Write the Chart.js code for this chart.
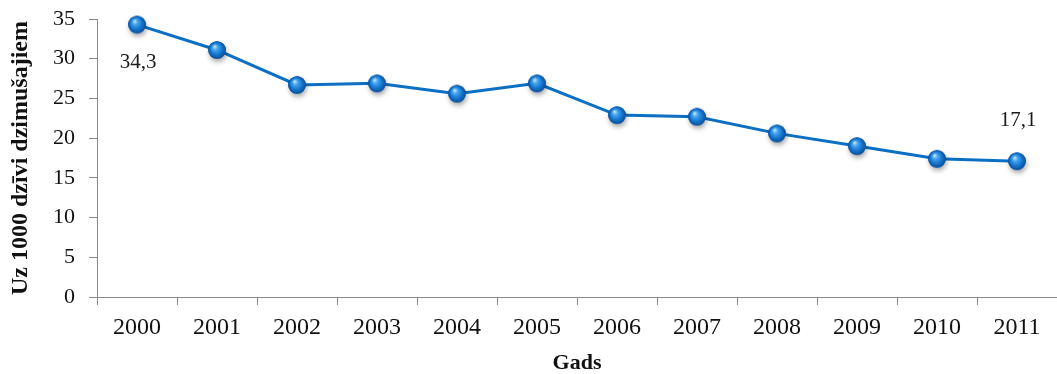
<!DOCTYPE html>
<html>
<head>
<meta charset="utf-8">
<script src="https://cdn.jsdelivr.net/npm/chart.js@4"></script>
<style>
  html, body { margin: 0; padding: 0; background: #ffffff; }
  #wrap { width: 1057px; height: 374px; position: relative; }
</style>
</head>
<body>
<div id="wrap"><canvas id="chart" width="1057" height="374"></canvas></div>
<script>
// Infant mortality per 1000 live births, by year
const years = ['2000', '2001', '2002', '2003', '2004', '2005', '2006', '2007', '2008', '2009', '2010', '2011'];
const rate = [34.3, 31.1, 26.7, 26.9, 25.6, 26.9, 22.9, 22.7, 20.6, 19.0, 17.4, 17.1];
const yTicks = [0, 5, 10, 15, 20, 25, 30, 35];
const labelledYears = ['2000', '2011'];

const SERIF = '"Liberation Serif", "Times New Roman", serif';
const AXIS_GREY = '#8a8a8a';
const LINE_BLUE = '#0b6fc3';

// Glossy sphere used as the point marker
function makeSphere() {
  const size = 34, c = size / 2, r = 8.8;
  const cv = document.createElement('canvas');
  cv.width = size; cv.height = size;
  const g = cv.getContext('2d');
  g.save();
  g.shadowColor = 'rgba(0,0,0,0.35)';
  g.shadowBlur = 5;
  g.shadowOffsetX = 1;
  g.shadowOffsetY = 3;
  g.beginPath();
  g.arc(c, c, r, 0, Math.PI * 2);
  g.fillStyle = '#0a5fae';
  g.fill();
  g.restore();
  const grad = g.createRadialGradient(c - 2.5, c - 3.5, 0.5, c, c, r);
  grad.addColorStop(0, '#bfe4ff');
  grad.addColorStop(0.25, '#4aa6ef');
  grad.addColorStop(0.65, '#1576cf');
  grad.addColorStop(1, '#0a4f98');
  g.beginPath();
  g.arc(c, c, r, 0, Math.PI * 2);
  g.fillStyle = grad;
  g.fill();
  return cv;
}
const sphere = makeSphere();

const fmt = v => v.toFixed(1).replace('.', ',');

// Value labels: first year below its point, last year above
const valueLabels = {
  id: 'valueLabels',
  afterDatasetsDraw(chart) {
    const ctx = chart.ctx;
    const meta = chart.getDatasetMeta(0);
    ctx.save();
    ctx.font = '21px ' + SERIF;
    ctx.fillStyle = '#1a1a1a';
    ctx.textAlign = 'center';
    ctx.textBaseline = 'middle';
    labelledYears.forEach(yr => {
      const i = years.indexOf(yr);
      const pt = meta.data[i];
      const dy = i === 0 ? 38 : -41;
      ctx.fillText(fmt(rate[i]), pt.x + 1, pt.y + dy);
    });
    ctx.restore();
  }
};

new Chart(document.getElementById('chart'), {
  type: 'line',
  data: {
    labels: years,
    datasets: [{
      data: rate,
      borderColor: LINE_BLUE,
      borderWidth: 3,
      pointStyle: sphere,
      pointRadius: 9,
      pointHoverRadius: 9,
      tension: 0,
      fill: false,
      clip: false
    }]
  },
  options: {
    responsive: false,
    animation: false,
    events: [],
    layout: { autoPadding: false, padding: { top: 19, right: 0, bottom: 0, left: 0 } },
    plugins: {
      legend: { display: false },
      tooltip: { enabled: false }
    },
    scales: {
      x: {
        type: 'category',
        offset: true,
        grid: {
          offset: true,
          drawOnChartArea: false,
          drawTicks: true,
          tickLength: 8,
          color: AXIS_GREY,
          lineWidth: 1
        },
        border: { color: AXIS_GREY, width: 1 },
        ticks: {
          color: '#111',
          font: { family: SERIF, size: 24 },
          padding: 8,
          maxRotation: 0,
          autoSkip: false
        },
        title: {
          display: true,
          text: 'Gads',
          color: '#111',
          font: { family: SERIF, size: 22, weight: 'bold', lineHeight: 1 },
          padding: { top: 0, bottom: 0 }
        },
        afterFit(scale) {
          scale.height = 77;
          scale.paddingLeft = 0;
          scale.paddingRight = 0;
        }
      },
      y: {
        min: 0,
        max: 35,
        afterBuildTicks(scale) { scale.ticks = yTicks.map(v => ({ value: v })); },
        grid: {
          drawOnChartArea: false,
          drawTicks: true,
          tickLength: 8,
          color: AXIS_GREY,
          lineWidth: 1
        },
        border: { color: AXIS_GREY, width: 1 },
        ticks: {
          color: '#111',
          font: { family: SERIF, size: 22 },
          padding: 14
        },
        title: {
          display: true,
          text: 'Uz 1000 dzīvi dzimušajiem',
          color: '#111',
          font: { family: SERIF, size: 24, weight: 'bold', lineHeight: 1 },
          padding: { top: 9, bottom: 0 }
        },
        afterFit(scale) {
          scale.width = 97;
          scale.paddingTop = 0;
          scale.paddingBottom = 0;
        }
      }
    }
  },
  plugins: [valueLabels]
});
</script>
</body>
</html>
